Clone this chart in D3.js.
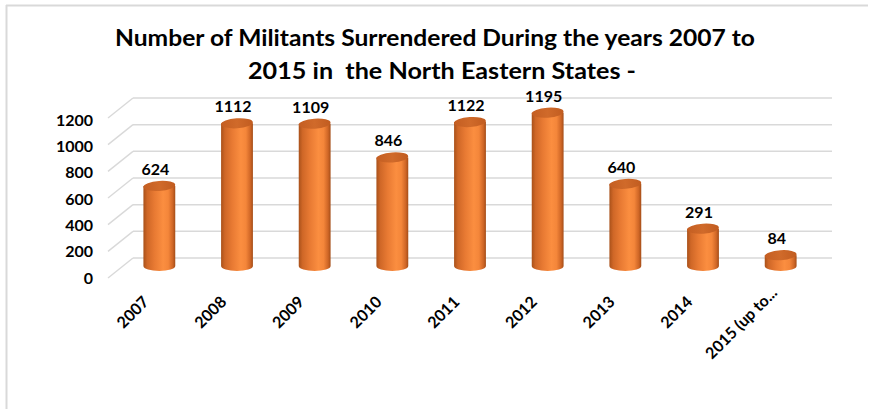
<!DOCTYPE html>
<html>
<head>
<meta charset="utf-8">
<script src="https://cdn.jsdelivr.net/npm/d3@7"></script>
<style>
  html, body { margin: 0; padding: 0; background: #fff; }
  svg { display: block; }
  text { font-family: Lato, "Open Sans", "Liberation Sans", sans-serif; font-weight: bold; fill: #000; }
</style>
</head>
<body>
<svg id="chart" width="869" height="409"></svg>
<script>
// Militants surrendered in the North Eastern States, by year
const categories = ["2007", "2008", "2009", "2010", "2011", "2012", "2013", "2014", "2015 (up to..."];
const surrendered = [624, 1112, 1109, 846, 1122, 1195, 640, 291, 84];
const yTicks = [0, 200, 400, 600, 800, 1000, 1200];
const titleLines = ["Number of Militants Surrendered During the years 2007 to", "2015 in  the North Eastern States -"];

const svg = d3.select("#chart");
const W = 869, H = 409;

// Frame (top and left edges)
svg.append("line").attr("x1", 6).attr("x2", 868).attr("y1", 5.5).attr("y2", 5.5)
  .attr("stroke", "#d9d9d9").attr("stroke-width", 2);
svg.append("line").attr("x1", 6.5).attr("x2", 6.5).attr("y1", 5).attr("y2", H)
  .attr("stroke", "#d9d9d9").attr("stroke-width", 2);

// Title
svg.append("g").selectAll("text").data(titleLines).join("text")
  .attr("x", (d, i) => i === 0 ? 435 : 442)
  .attr("y", (d, i) => i === 0 ? 46 : 78.5)
  .attr("text-anchor", "middle")
  .attr("font-size", 22)
  .style("white-space", "pre")
  .attr("textLength", (d, i) => i === 0 ? 640 : 388)
  .attr("lengthAdjust", "spacingAndGlyphs")
  .text(d => d);

// 3D wall geometry: back wall and the depth offset towards the front
const depth = { dx: -25, dy: 20 };
const xBack = d3.scaleBand().domain(categories).range([133, 832])
  .paddingInner(0.59).paddingOuter(0.295);
const yBack = d3.scaleLinear().domain([0, 1200]).range([258, 98]);
// bars stand half-way into the depth
const yBar = d3.scaleLinear().domain([0, 1200]).range([266, 112]);
const midDx = depth.dx / 2;

// Gridlines: back wall + side wall
const grid = svg.append("g");
yTicks.forEach(t => {
  const y = yBack(t);
  grid.append("line").attr("x1", 133).attr("x2", 832).attr("y1", y).attr("y2", y)
    .attr("stroke", "#d9d9d9").attr("stroke-width", 1.5);
  grid.append("line").attr("x1", 133).attr("x2", 133 + depth.dx).attr("y1", y).attr("y2", y + depth.dy)
    .attr("stroke", "#d9d9d9").attr("stroke-width", 1.5);
});

// Y axis labels on the front edge
const yAxis = d3.axisLeft(d3.scaleLinear().domain([0, 1200]).range([yBack(0) + depth.dy, yBack(1200) + depth.dy + 2]))
  .tickValues(yTicks).tickFormat(d3.format("d")).tickSize(0).tickPadding(0);
const yg = svg.append("g").attr("transform", `translate(93,0)`).call(yAxis);
yg.select(".domain").remove();
yg.selectAll("text").attr("font-size", 16).attr("font-family", null).attr("fill", "#000");

// Cylinder shading
const defs = svg.append("defs");
const body = defs.append("linearGradient").attr("id", "cylBody").attr("x1", 0).attr("x2", 1).attr("y1", 0).attr("y2", 0);
[[0, "#a9511a"], [0.12, "#cf6727"], [0.35, "#e87a33"], [0.62, "#fb8e40"], [0.78, "#f4863a"], [0.92, "#cf6626"], [1, "#a44d18"]]
  .forEach(([o, c]) => body.append("stop").attr("offset", o).attr("stop-color", c));
const cap = defs.append("linearGradient").attr("id", "cylTop").attr("x1", 0).attr("x2", 1).attr("y1", 0).attr("y2", 0);
[[0, "#c45e22"], [0.5, "#d06a2a"], [1, "#c15c20"]]
  .forEach(([o, c]) => cap.append("stop").attr("offset", o).attr("stop-color", c));

const rx = xBack.bandwidth() / 2, ry = 5;
const bars = svg.append("g").selectAll("g").data(categories).join("g")
  .attr("transform", (d) => `translate(${xBack(d) + midDx + rx},0)`);

bars.append("path")
  .attr("fill", "url(#cylBody)")
  .attr("d", (d, i) => {
    const yt = yBar(surrendered[i]), yb = yBar(0);
    return `M${-rx},${yt} L${-rx},${yb} A${rx},${ry} 0 0 0 ${rx},${yb} L${rx},${yt} Z`;
  });
bars.append("ellipse")
  .attr("cx", 0).attr("cy", (d, i) => yBar(surrendered[i]))
  .attr("rx", rx).attr("ry", ry)
  .attr("transform", (d, i) => `rotate(-4,0,${yBar(surrendered[i])})`)
  .attr("fill", "url(#cylTop)");

// Value labels
bars.append("text")
  .attr("x", -4)
  .attr("y", (d, i) => yBar(surrendered[i]) - 11)
  .attr("text-anchor", "middle")
  .attr("font-size", 16)
  .text((d, i) => surrendered[i]);

// Category labels, rotated
svg.append("g").selectAll("text").data(categories).join("text")
  .attr("transform", d => {
    const shift = d.length > 6 ? 10 : 0;
    const x = xBack(d) + midDx + rx - 9.5 + shift * 0.707;
    const y = 303 - shift * 0.707 * 1.3;
    return `translate(${x},${y}) rotate(-45)`;
  })
  .attr("text-anchor", "end")
  .attr("font-size", 16)
  .text(d => d);
</script>
</body>
</html>
